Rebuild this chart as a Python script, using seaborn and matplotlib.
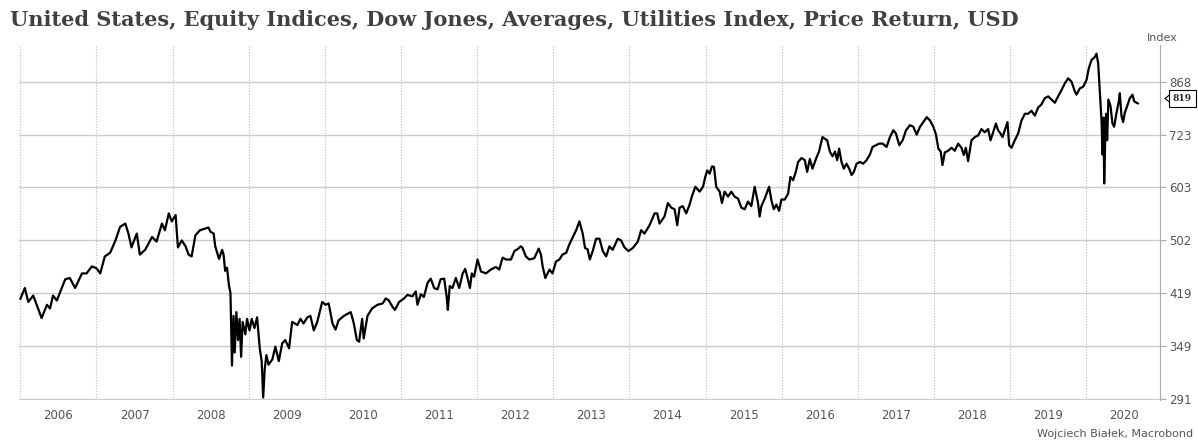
import numpy as np
import pandas as pd
import seaborn as sns
import matplotlib.pyplot as plt
import matplotlib.transforms as mtransforms
from matplotlib.lines import Line2D
from matplotlib.ticker import FixedLocator, FixedFormatter, NullFormatter, NullLocator

# Dow Jones Utilities Average, price return (decimal years)
t_2006_08 = [2006.00, 2006.06, 2006.105, 2006.17, 2006.215, 2006.28, 2006.35, 2006.39, 2006.43, 2006.48,
             2006.52, 2006.59, 2006.65, 2006.72, 2006.81, 2006.87, 2006.94, 2007.00, 2007.05, 2007.11,
             2007.18, 2007.25, 2007.31, 2007.38, 2007.42, 2007.46, 2007.53, 2007.57, 2007.64, 2007.73,
             2007.79, 2007.86, 2007.90, 2007.95, 2007.99, 2008.04, 2008.07, 2008.12, 2008.17, 2008.21,
             2008.25, 2008.30, 2008.36, 2008.43, 2008.47, 2008.50]
v_2006_08 = [410, 426, 406, 415, 402, 384, 402, 397, 415, 408,
             419, 439, 441, 426, 448, 448, 459, 456, 448, 475,
             481, 502, 526, 532, 514, 490, 514, 478, 486, 508,
             500, 532, 520, 551, 536, 548, 490, 502, 492, 478,
             475, 511, 520, 523, 525, 517]

t_2008_10 = [2008.54, 2008.56, 2008.61, 2008.65, 2008.67, 2008.69, 2008.715, 2008.74, 2008.76, 2008.78,
             2008.80, 2008.816, 2008.838, 2008.86, 2008.88, 2008.90, 2008.92, 2008.956, 2008.978, 2009.01,
             2009.04, 2009.075, 2009.11, 2009.145, 2009.17, 2009.19, 2009.21, 2009.232, 2009.26, 2009.31,
             2009.35, 2009.395, 2009.44, 2009.48, 2009.53, 2009.57, 2009.64, 2009.68, 2009.72, 2009.77,
             2009.81, 2009.855, 2009.90, 2009.965, 2010.01, 2010.05, 2010.10, 2010.14, 2010.18, 2010.25,
             2010.34, 2010.38, 2010.42, 2010.45, 2010.49, 2010.51, 2010.56, 2010.62, 2010.69, 2010.76]
v_2008_10 = [514, 492, 471, 486, 478, 452, 457, 430, 419, 326,
             387, 341, 392, 356, 383, 336, 379, 363, 383, 368,
             383, 371, 385, 346, 331, 292, 322, 338, 327, 333,
             348, 331, 352, 356, 346, 379, 375, 383, 377, 385,
             387, 368, 379, 406, 402, 404, 377, 369, 381, 387,
             392, 377, 356, 354, 383, 358, 387, 397, 402, 404]

t_2010_13 = [2010.80, 2010.84, 2010.89, 2010.92, 2010.975, 2011.04, 2011.084, 2011.15, 2011.194, 2011.216,
             2011.26, 2011.30, 2011.35, 2011.39, 2011.435, 2011.48, 2011.52, 2011.567, 2011.60, 2011.615,
             2011.64, 2011.676, 2011.72, 2011.764, 2011.81, 2011.843, 2011.874, 2011.905, 2011.93, 2011.96,
             2012.005, 2012.05, 2012.115, 2012.18, 2012.246, 2012.29, 2012.334, 2012.38, 2012.444, 2012.49,
             2012.53, 2012.575, 2012.597, 2012.64, 2012.685, 2012.75, 2012.808, 2012.838, 2012.86, 2012.895,
             2012.95, 2012.99, 2013.036, 2013.08, 2013.12, 2013.17, 2013.21]
v_2010_13 = [411, 408, 399, 395, 406, 411, 416, 414, 421, 402,
             417, 413, 434, 440, 426, 424, 439, 440, 413, 395,
             429, 426, 441, 426, 448, 455, 441, 426, 448, 443,
             470, 451, 448, 454, 458, 454, 473, 470, 470, 484,
             487, 492, 489, 475, 470, 472, 488, 478, 459, 441,
             454, 448, 467, 470, 478, 481, 495]

t_2013_15 = [2013.30, 2013.343, 2013.386, 2013.417, 2013.45, 2013.48, 2013.518, 2013.562, 2013.606, 2013.65,
             2013.694, 2013.737, 2013.78, 2013.847, 2013.89, 2013.935, 2013.987, 2014.044, 2014.11, 2014.154,
             2014.198, 2014.264, 2014.33, 2014.365, 2014.395, 2014.46, 2014.505, 2014.55, 2014.593, 2014.628,
             2014.658, 2014.70, 2014.746, 2014.79, 2014.82, 2014.865, 2014.922, 2014.966, 2014.996, 2015.022,
             2015.053, 2015.084, 2015.11, 2015.14, 2015.185, 2015.215, 2015.25, 2015.294, 2015.338, 2015.38,
             2015.426, 2015.47, 2015.514, 2015.557, 2015.60, 2015.645]
v_2013_15 = [520, 536, 514, 489, 487, 470, 484, 505, 505, 484,
             475, 492, 486, 505, 502, 490, 484, 489, 500, 520,
             514, 529, 551, 551, 532, 545, 571, 562, 559, 529,
             562, 565, 551, 568, 584, 604, 594, 604, 625, 639,
             632, 648, 647, 604, 594, 571, 594, 584, 594, 584,
             580, 562, 559, 574, 565, 604]

t_2015_18 = [2015.689, 2015.71, 2015.733, 2015.777, 2015.834, 2015.864, 2015.895, 2015.93, 2015.965, 2015.996,
             2016.04, 2016.084, 2016.114, 2016.15, 2016.185, 2016.215, 2016.26, 2016.303, 2016.334, 2016.369,
             2016.404, 2016.456, 2016.49, 2016.535, 2016.566, 2016.597, 2016.632, 2016.667, 2016.70, 2016.728,
             2016.754, 2016.785, 2016.816, 2016.851, 2016.886, 2016.917, 2016.948, 2016.983, 2017.027, 2017.07,
             2017.114, 2017.158, 2017.193, 2017.237, 2017.281, 2017.325, 2017.377, 2017.421, 2017.465, 2017.50,
             2017.544, 2017.588, 2017.632, 2017.684, 2017.728, 2017.772, 2017.816, 2017.86, 2017.904, 2017.948,
             2017.991, 2018.026, 2018.057, 2018.088]
v_2015_18 = [571, 545, 565, 580, 604, 577, 559, 568, 556, 578,
             578, 590, 625, 618, 636, 658, 667, 662, 636, 665,
             643, 668, 682, 717, 713, 709, 682, 671, 682, 662,
             689, 658, 643, 654, 643, 629, 636, 654, 658, 654,
             662, 675, 693, 697, 701, 701, 693, 717, 734, 726,
             697, 709, 734, 747, 743, 723, 743, 755, 768, 759,
             743, 723, 689, 682]

t_2018_20 = [2018.111, 2018.142, 2018.186, 2018.23, 2018.273, 2018.317, 2018.361, 2018.391, 2018.418, 2018.448,
             2018.492, 2018.536, 2018.58, 2018.623, 2018.667, 2018.711, 2018.742, 2018.777, 2018.812, 2018.842,
             2018.873, 2018.90, 2018.93, 2018.965, 2018.987, 2019.018, 2019.061, 2019.105, 2019.149, 2019.193,
             2019.236, 2019.28, 2019.324, 2019.368, 2019.41, 2019.455, 2019.50, 2019.543, 2019.587, 2019.63,
             2019.674, 2019.718, 2019.762, 2019.806, 2019.85, 2019.871, 2019.915, 2019.959, 2020.003, 2020.033,
             2020.068, 2020.112, 2020.134, 2020.156, 2020.178, 2020.20, 2020.213, 2020.226, 2020.235, 2020.248,
             2020.26, 2020.274, 2020.29, 2020.318, 2020.344, 2020.366, 2020.397, 2020.427, 2020.44, 2020.462,
             2020.484, 2020.506, 2020.537, 2020.572, 2020.607, 2020.629, 2020.66, 2020.68]
v_2018_20 = [651, 680, 684, 691, 684, 701, 691, 674, 691, 660,
             709, 717, 721, 737, 729, 737, 709, 729, 751, 734,
             726, 717, 734, 755, 697, 691, 709, 726, 759, 777,
             777, 785, 772, 794, 802, 820, 825, 816, 807, 825,
             843, 863, 878, 868, 839, 830, 848, 853, 873, 909,
             935, 945, 956, 925, 839, 759, 675, 767, 611, 709,
             777, 709, 816, 798, 751, 743, 780, 811, 834, 772,
             755, 780, 798, 820, 830, 811, 807, 805]

last_label = 819
y_ticks = [291, 349, 419, 502, 603, 723, 868]
years = list(range(2006, 2021))

title = "United States, Equity Indices, Dow Jones, Averages, Utilities Index, Price Return, USD"
source = "Wojciech Białek, Macrobond"

df = pd.DataFrame({
    'year': np.concatenate([t_2006_08, t_2008_10, t_2010_13, t_2013_15, t_2015_18, t_2018_20]),
    'value': np.concatenate([v_2006_08, v_2008_10, v_2010_13, v_2013_15, v_2015_18, v_2018_20]),
})

sns.set_theme(style='white')
plt.rcParams['font.family'] = ['DejaVu Sans']

W, H = 1198, 441
fig = plt.figure(figsize=(W / 100, H / 100), dpi=100)
ax_l, ax_r, ax_t, ax_b = 19, 1160, 45, 399.5
ax = fig.add_axes([ax_l / W, 1 - ax_b / H, (ax_r - ax_l) / W, (ax_b - ax_t) / H])

sns.lineplot(data=df, x='year', y='value', color='black', lw=1.6, estimator=None, ax=ax)

ax.set_yscale('log')
ax.set_ylim(290, 985)
ax.set_xlim(2005.983, 2020.968)
ax.set_xlabel('')
ax.set_ylabel('')

# y axis on the right
ax.yaxis.tick_right()
ax.yaxis.set_major_locator(FixedLocator(y_ticks))
ax.yaxis.set_major_formatter(FixedFormatter([str(v) for v in y_ticks]))
ax.yaxis.set_minor_locator(NullLocator())
ax.tick_params(axis='y', which='major', length=4.5, width=0.8, color='#aaaaaa',
               pad=2, labelsize=8.5, labelcolor='#555555')

# x axis: ticks at year boundaries, labels centred in each year
ax.xaxis.set_major_locator(FixedLocator(years))
ax.xaxis.set_major_formatter(NullFormatter())
ax.xaxis.set_minor_locator(FixedLocator([y + 0.5 for y in years]))
ax.xaxis.set_minor_formatter(FixedFormatter([str(y) for y in years]))
ax.tick_params(axis='x', which='major', length=4, width=0.8, color='#888888', direction='out')
ax.tick_params(axis='x', which='minor', length=0, pad=7, labelsize=8.5, labelcolor='#555555')

ax.grid(axis='y', color='#cccccc', lw=1.0, ls='-')
ax.grid(axis='x', which='major', color='#bbbbbb', lw=0.8, ls=(0, (1, 1.5)))
ax.set_axisbelow(True)

for s in ['top', 'left', 'bottom']:
    ax.spines[s].set_visible(False)
ax.spines['right'].set_color('#aaaaaa')
ax.spines['right'].set_linewidth(0.8)

# last value tag
trans = mtransforms.blended_transform_factory(ax.transAxes, ax.transData)
px = 1.0 / (ax_r - ax_l)
f = 1.2 ** (4 / 52.9)
ax.add_artist(Line2D([1 + 10 * px, 1 + 5 * px, 1 + 10 * px],
                     [last_label * f, last_label, last_label / f],
                     transform=trans, color='black', lw=0.8, clip_on=False))
ax.text(1 + 22.5 * px, last_label, str(last_label), transform=trans, ha='center', va='center',
        fontsize=6.5, fontweight='bold', family='DejaVu Serif', clip_on=False,
        bbox=dict(boxstyle='square,pad=0.45', fc='white', ec='black', lw=0.8))

fig.text(10 / W, 1 - 20 / H, title, fontsize=15, fontweight='bold', family='DejaVu Serif',
         color='#404040', va='center', ha='left')
fig.text(1178 / W, 1 - 38 / H, 'Index', fontsize=8, color='#555555', va='center', ha='right')
fig.text(1193 / W, 1 - 434 / H, source, fontsize=8, color='#555555', va='center', ha='right')

fig.savefig('out.png', dpi=100, facecolor='white')
